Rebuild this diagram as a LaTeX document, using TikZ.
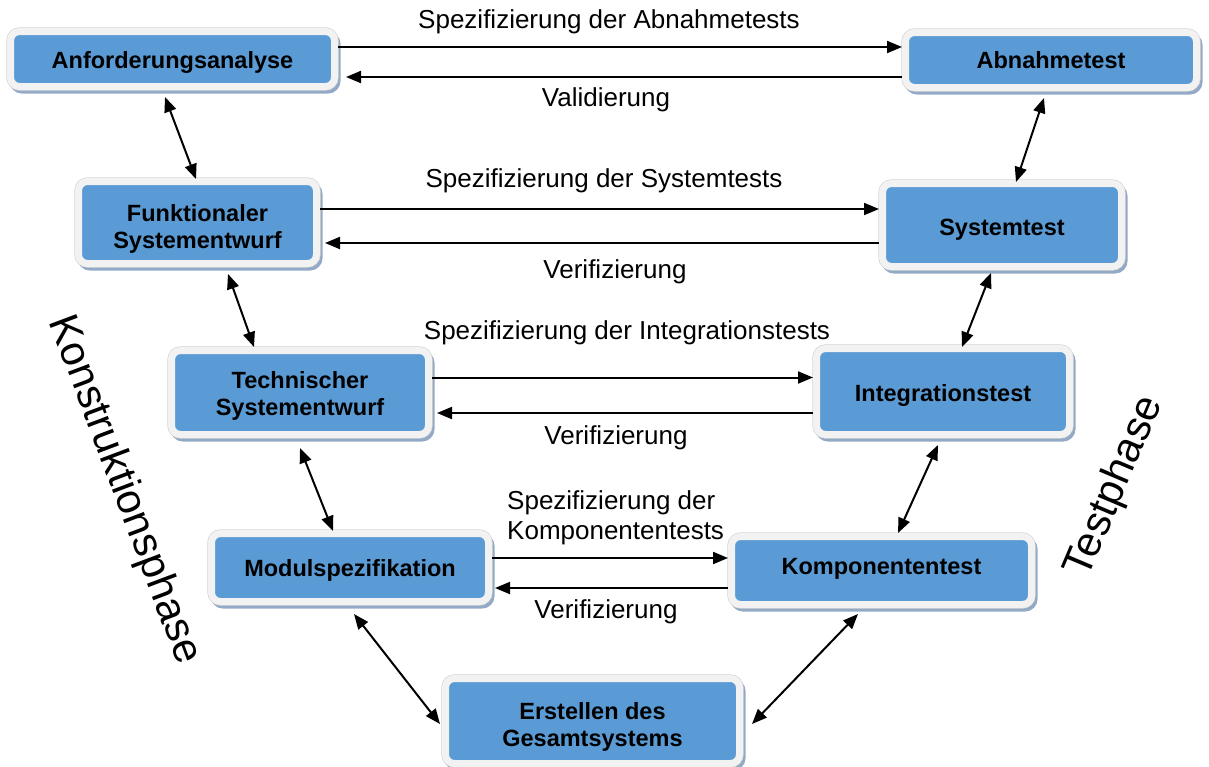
\documentclass[tikz,border=0pt]{standalone}
\usepackage{fontspec}
\setmainfont{Liberation Sans}
\usetikzlibrary{arrows.meta,calc}
\definecolor{boxblue}{HTML}{5B9BD5}
\definecolor{boxrim}{HTML}{F2F2F2}
\definecolor{rimedge}{HTML}{D2D2D2}
\definecolor{boxshadow}{HTML}{93AAC6}
\begin{document}
\begin{tikzpicture}[x=1pt,y=-1pt,
  vbox/.style={rectangle, rounded corners=9pt, fill=boxblue, draw=boxrim,
    line width=7pt, outer sep=3.5pt, inner sep=0pt,
    preaction={draw=boxshadow, fill=boxshadow, line width=7pt,
      transform canvas={xshift=2.5pt, yshift=-3.5pt}},
    preaction={draw=rimedge, line width=8.2pt}},
  btxt/.style={align=center, inner sep=0pt, text=black,
    font=\bfseries\fontsize{23.5}{27}\selectfont},
  lbl/.style={font=\fontsize{26}{30}\selectfont, inner sep=0pt},
  phase/.style={font=\fontsize{42}{48}\selectfont, inner sep=0pt},
  arr/.style={line width=2pt, -{Triangle[length=15pt,width=12pt]}},
  darr/.style={line width=2pt, {Triangle[length=15pt,width=12pt]}-{Triangle[length=15pt,width=12pt]}}]
\useasboundingbox (0,0) rectangle (1209,766);

% boxes
\node[vbox, minimum width=324pt, minimum height=55pt,
  label={[btxt,yshift=-3pt]center:Anforderungsanalyse}] (anf) at (172.5,59) {};
\node[vbox, minimum width=291pt, minimum height=55pt,
  label={[btxt]center:Abnahmetest}] (abn) at (1051,60) {};
\node[vbox, minimum width=238pt, minimum height=82pt,
  label={[btxt,yshift=-6pt]center:{Funktionaler\\Systementwurf}}] (funk) at (197.5,222.5) {};
\node[vbox, minimum width=239pt, minimum height=83pt,
  label={[btxt,yshift=-5pt]center:Systemtest}] (sys) at (1002,225) {};
\node[vbox, minimum width=257pt, minimum height=84pt,
  label={[btxt,yshift=-3pt]center:{Technischer\\Systementwurf}}] (tech) at (300,392.5) {};
\node[vbox, minimum width=253pt, minimum height=86pt,
  label={[btxt,yshift=-4pt]center:Integrationstest}] (integ) at (943,391.5) {};
\node[vbox, minimum width=277pt, minimum height=68pt,
  label={[btxt,yshift=-3pt]center:Modulspezifikation}] (modul) at (350,567.5) {};
\node[vbox, minimum width=300pt, minimum height=68pt,
  label={[btxt,yshift=1.5pt]center:Komponententest}] (komp) at (881.5,570.5) {};
\node[vbox, minimum width=294pt, minimum height=85pt,
  label={[btxt,yshift=-6pt]center:{Erstellen des\\Gesamtsystems}}] (erst) at (592.5,721) {};

% horizontal arrows
\draw[arr] ($(anf.east)+(0,-12)$) -- ($(abn.west)+(0,-13)$);
\draw[arr] ($(abn.west)+(0,17)$) -- ($(anf.east)+(8,18)$);
\draw[arr] ($(funk.east)+(0,-13.5)$) -- ($(sys.west)+(0,-16)$);
\draw[arr] ($(sys.west)+(0,18)$) -- ($(funk.east)+(5,20.5)$);
\draw[arr] ($(tech.east)+(0,-15)$) -- ($(integ.west)+(0,-14)$);
\draw[arr] ($(integ.west)+(0,21.5)$) -- ($(tech.east)+(5,20.5)$);
\draw[arr] ($(modul.east)+(0,-9.5)$) -- ($(komp.west)+(0,-12.5)$);
\draw[arr] ($(komp.west)+(0,17.5)$) -- ($(modul.east)+(3,20.5)$);

% labels
\node[lbl] (l1a) at (609,22) {Spezifizierung der Abnahmetests};
\node[lbl] (l1b) at (606,100) {Validierung};
\node[lbl] (l2a) at (604,181) {Spezifizierung der Systemtests};
\node[lbl] (l2b) at (615,272) {Verifizierung};
\node[lbl] (l3a) at (627,333) {Spezifizierung der Integrationstests};
\node[lbl] (l3b) at (616,438) {Verifizierung};
\node[lbl, align=left, anchor=west] (l4a) at (507,518) {Spezifizierung der\\Komponententests};
\node[lbl] (l4b) at (606,612) {Verifizierung};

% diagonal double arrows
\draw[darr] ($(anf.south)+(-7.5,7)$) -- ($(funk.north)+(-1.5,1)$);
\draw[darr] ($(funk.south)+(30.5,7)$) -- ($(tech.north)+(-46,0)$);
\draw[darr] ($(tech.south)+(0,10)$) -- ($(modul.north)+(-17,1)$);
\draw[darr] ($(modul.south)+(4,9)$) -- ($(erst.west)+(-2,3)$);
\draw[darr] ($(abn.south)+(-7,7)$) -- ($(sys.north)+(14,2)$);
\draw[darr] ($(sys.south)+(-11,3)$) -- ($(integ.north)+(19,2)$);
\draw[darr] ($(integ.south)+(-5,7)$) -- ($(komp.north)+(16.5,0)$);
\draw[darr] ($(komp.south)+(-23.5,6)$) -- ($(erst.east)+(9,3)$);

% phase labels
\node[phase, rotate=-69.4] (kp) at (124,490) {Konstruktionsphase};
\node[phase, rotate=67.1] (tp) at (1115,487) {Testphase};
\end{tikzpicture}
\end{document}
